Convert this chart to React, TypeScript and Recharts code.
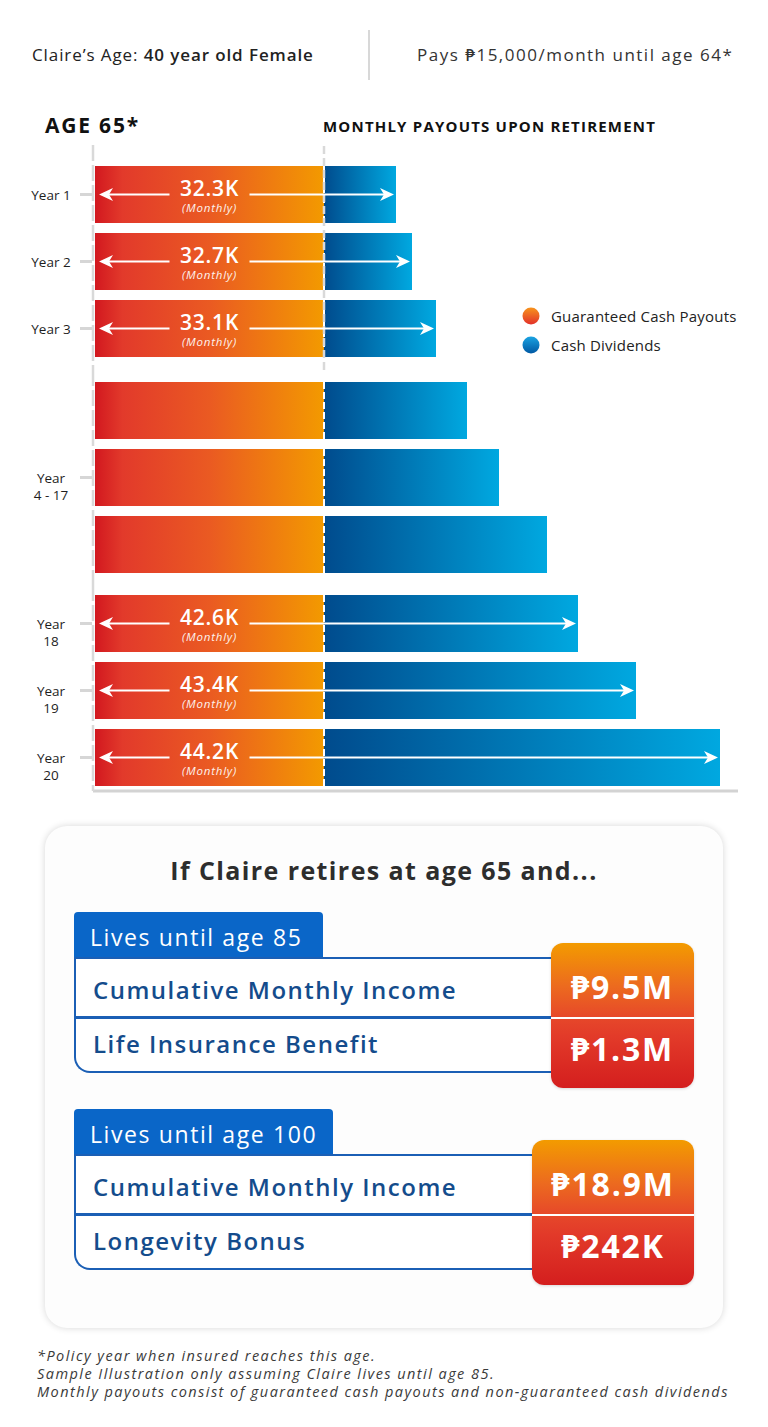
import React from "react";
import { BarChart, Bar, XAxis, YAxis, ReferenceLine, LabelList, Legend, Rectangle } from "recharts";

// rows of the payout chart (bar lengths, same unit for both series)
const rowKeys = ["y1", "y2", "y3", "y4", "y5", "y6", "y18", "y19", "y20"];
const rowLabels = ["Year 1", "Year 2", "Year 3", "", "Year\n4 - 17", "", "Year\n18", "Year\n19", "Year\n20"];
const guaranteedPayouts = [22.9, 22.9, 22.9, 22.9, 22.9, 22.9, 22.9, 22.9, 22.9];
const cashDividends = [7.2, 8.8, 11.2, 14.3, 17.5, 22.3, 25.4, 31.2, 39.6];
const monthlyTotals = ["32.3K", "32.7K", "33.1K", "", "", "", "42.6K", "43.4K", "44.2K"];
const rowGroups = [[0, 3], [3, 6], [6, 9]];
const legendOrder = ["guaranteed", "dividend"];

const FONT = "'Open Sans', 'Noto Sans', sans-serif";

const rows = rowKeys.map((key, i) => ({
  key,
  label: rowLabels[i],
  guaranteed: guaranteedPayouts[i],
  dividend: cashDividends[i],
  total: monthlyTotals[i],
}));

const Arrow = ({ from, to, y }: { from: number; to: number; y: number }) => {
  const dir = to > from ? 1 : -1;
  return (
    <g>
      <line x1={from} x2={to - dir * 8} y1={y} y2={y} stroke="#fff" strokeWidth={2} />
      <path
        d={`M${to},${y} L${to - dir * 14},${y - 6.5} L${to - dir * 10},${y} L${to - dir * 14},${y + 6.5} Z`}
        fill="#fff"
      />
    </g>
  );
};

const makeAnnotation = (data: any[]) => (props: any) => {
  const { x, y, width, height, index } = props;
  const row = data[index];
  if (!row || !row.total) return null;
  const k = width / row.dividend;
  const start = x - row.guaranteed * k;
  const cx = (start + x) / 2;
  const cy = y + height / 2;
  return (
    <g fontFamily={FONT}>
      <Arrow from={cx - 40} to={start + 4} y={cy} />
      <Arrow from={cx + 40} to={x + width - 2} y={cy} />
      <text x={cx} y={cy - 7} textAnchor="middle" dominantBaseline="central" fill="#fff" fontSize={21} fontWeight={600} letterSpacing={0.8}>
        {row.total}
      </text>
      <text x={cx} y={cy + 13} textAnchor="middle" dominantBaseline="central" fill="#fff" fontSize={11.5} fontStyle="italic" letterSpacing={0.8} opacity={0.92}>
        (Monthly)
      </text>
    </g>
  );
};

const DividendShape = (props: any) => {
  const { x, y, width, height } = props;
  return (
    <g>
      <Rectangle x={x} y={y} width={width} height={height} fill="url(#gradBlue)" />
      <line x1={x} x2={x} y1={y} y2={y + height} stroke="#fff" strokeWidth={2} strokeDasharray="7 3" />
    </g>
  );
};

const makeTick = (data: any[]) => (props: any) => {
  const { x, y, payload } = props;
  const row = data.find((r) => r.key === payload.value);
  if (!row || !row.label) return null;
  const lines = row.label.split("\n");
  return (
    <g>
      <line x1={x - 13} x2={x - 1} y1={y} y2={y} stroke="#d6d6d6" strokeWidth={3} />
      <text textAnchor="middle" fontSize={13.5} fill="#1e1e1e" fontWeight={500} fontFamily={FONT}>
        {lines.map((l: string, i: number) => (
          <tspan key={i} x={x - 42} y={y + i * 17} dominantBaseline="central">
            {l}
          </tspan>
        ))}
      </text>
    </g>
  );
};

const LegendContent = (props: any) => {
  const items = [...(props.payload || [])].sort(
    (p: any, q: any) => legendOrder.indexOf(p.dataKey) - legendOrder.indexOf(q.dataKey)
  );
  return (
    <div style={{ fontFamily: FONT }}>
      {items.map((entry: any) => (
        <div key={entry.value} style={{ display: "flex", alignItems: "center", height: 29 }}>
          <svg width={18} height={18} style={{ marginRight: 11 }}>
            <circle cx={9} cy={9} r={8.5} fill={entry.dataKey === "guaranteed" ? "url(#gradDotOrange)" : "url(#gradDotBlue)"} />
          </svg>
          <span style={{ fontSize: 15, color: "#222", fontWeight: 500, letterSpacing: 0.2 }}>{entry.value}</span>
        </div>
      ))}
    </div>
  );
};

const chartLayouts = [
  { top: 145, height: 225, padding: { top: 16, bottom: 8 } },
  { top: 370, height: 215, padding: { top: 7, bottom: 7 } },
  { top: 585, height: 212, padding: { top: 5, bottom: 0 } },
];

const PayoutChart = ({ part }: { part: number }) => {
  const [a, b] = rowGroups[part];
  const data = rows.slice(a, b);
  const layout = chartLayouts[part];
  const isLast = part === rowGroups.length - 1;
  return (
    <div style={{ position: "absolute", left: 0, top: layout.top }}>
      <BarChart
        width={768}
        height={layout.height}
        data={data}
        layout="vertical"
        margin={{ top: 0, right: 30, bottom: 0, left: 0 }}
        barCategoryGap={5}
      >
        <XAxis
          type="number"
          domain={[-0.2, 64.3]}
          hide={!isLast}
          tick={false}
          tickLine={false}
          height={6}
          axisLine={{ stroke: "#d3d3d3", strokeWidth: 3 }}
        />
        <YAxis
          type="category"
          dataKey="key"
          width={93}
          padding={layout.padding}
          tickLine={false}
          tickSize={0}
          tickMargin={0}
          interval={0}
          tick={makeTick(data)}
          axisLine={{ stroke: "#d9d9d9", strokeWidth: 2.5, strokeDasharray: "16 4" }}
        />
        {part === 0 && (
          <ReferenceLine x={guaranteedPayouts[0]} stroke="#d9d9d9" strokeWidth={2.5} strokeDasharray="8 4" />
        )}
        <Bar
          dataKey="guaranteed"
          name="Guaranteed Cash Payouts"
          stackId="p"
          fill="url(#gradOrange)"
          isAnimationActive={false}
        />
        <Bar
          dataKey="dividend"
          name="Cash Dividends"
          stackId="p"
          fill="#0070b8"
          shape={DividendShape}
          isAnimationActive={false}
        >
          <LabelList dataKey="dividend" content={makeAnnotation(data)} />
        </Bar>
        {part === 0 && (
          <Legend
            layout="horizontal"
            verticalAlign="middle"
            align="center"
            content={LegendContent}
            wrapperStyle={{ position: "absolute", top: 156, left: 522, width: 246, height: 60 }}
          />
        )}
      </BarChart>
    </div>
  );
};

const valueBox = (top: number, left: number, width: number, split: number, v1: string, v2: string) => (
  <div
    style={{
      position: "absolute",
      top,
      left,
      width,
      height: 145,
      borderRadius: 12,
      background: "linear-gradient(180deg, #f39b00 0%, #ec6a1f 30%, #e6472a 52%, #e23a29 65%, #d41e1e 100%)",
      boxShadow: "0 1px 3px rgba(0,0,0,0.15)",
      color: "#fff",
      fontFamily: FONT,
      fontWeight: 700,
      fontSize: 32,
      letterSpacing: 1.8,
    }}
  >
    <div style={{ position: "absolute", left: 0, right: 0, top: split, height: 2, background: "#fff" }} />
    <div style={{ position: "absolute", left: 0, right: 0, top: 24, height: 40, lineHeight: "40px", textAlign: "center" }}>{v1}</div>
    <div style={{ position: "absolute", left: 0, right: 0, top: 86, height: 40, lineHeight: "40px", textAlign: "center" }}>{v2}</div>
  </div>
);

const Scenario = ({ top, tabWidth, tabText, tableWidth, row1, row2, v1, v2 }: any) => (
  <>
    <div
      style={{
        position: "absolute",
        left: 74,
        top,
        width: tabWidth,
        height: 46,
        background: "#0a66c8",
        borderRadius: "4px 4px 0 0",
        color: "#fff",
        fontFamily: FONT,
        fontSize: 23,
        fontWeight: 500,
        letterSpacing: 1.6,
        lineHeight: "50px",
        paddingLeft: 16,
        boxSizing: "border-box",
        whiteSpace: "nowrap",
      }}
    >
      {tabText}
    </div>
    <div
      style={{
        position: "absolute",
        left: 74,
        top: top + 45,
        width: tableWidth,
        height: 116,
        border: "2.5px solid #1b5fb5",
        borderRight: "none",
        borderBottomLeftRadius: 16,
        background: "#fff",
        boxSizing: "border-box",
        fontFamily: FONT,
        color: "#144c8c",
        fontSize: 24,
        fontWeight: 600,
        letterSpacing: 1.5,
        lineHeight: "32px",
        whiteSpace: "nowrap",
      }}
    >
      <div style={{ position: "absolute", left: 0, right: 0, top: 57, height: 2.5, background: "#1b5fb5" }} />
      <div style={{ position: "absolute", left: 17, top: 15 }}>{row1}</div>
      <div style={{ position: "absolute", left: 17, top: 69 }}>{row2}</div>
    </div>
    {valueBox(top + 31, 74 + tableWidth - 1, 694 - (74 + tableWidth - 1), 74, v1, v2)}
  </>
);

export default function App() {
  return (
    <div style={{ position: "absolute", left: 0, top: 0, width: 768, height: 1427, background: "#fff", overflow: "hidden", fontFamily: FONT }}>
      <svg width={0} height={0} style={{ position: "absolute" }}>
        <defs>
          <linearGradient id="gradOrange" x1="0" y1="0" x2="1" y2="0">
            <stop offset="0%" stopColor="#d2181f" />
            <stop offset="12%" stopColor="#e23a2b" />
            <stop offset="50%" stopColor="#ea5a22" />
            <stop offset="100%" stopColor="#f39a00" />
          </linearGradient>
          <linearGradient id="gradBlue" x1="0" y1="0" x2="1" y2="0">
            <stop offset="0%" stopColor="#004b8d" />
            <stop offset="100%" stopColor="#00a8e0" />
          </linearGradient>
          <linearGradient id="gradDotOrange" x1="0" y1="0" x2="0" y2="1">
            <stop offset="0%" stopColor="#f7941d" />
            <stop offset="100%" stopColor="#e2302a" />
          </linearGradient>
          <linearGradient id="gradDotBlue" x1="0" y1="0" x2="0" y2="1">
            <stop offset="0%" stopColor="#1ba3e2" />
            <stop offset="100%" stopColor="#0058a3" />
          </linearGradient>
        </defs>
      </svg>

      {/* header */}
      <div style={{ position: "absolute", left: 32, top: 43, fontSize: 17, letterSpacing: 0.9, color: "#222", whiteSpace: "nowrap" }}>
        Claire’s Age: <span style={{ fontWeight: 600 }}>40 year old Female</span>
      </div>
      <div style={{ position: "absolute", left: 368, top: 30, width: 1.5, height: 50, background: "#d8d8d8" }} />
      <div style={{ position: "absolute", left: 417, top: 43, fontSize: 17, letterSpacing: 1.5, color: "#333", fontWeight: 500, whiteSpace: "nowrap" }}>
        Pays ₱15,000/month until age 64*
      </div>

      <div style={{ position: "absolute", left: 45, top: 111, fontSize: 21, letterSpacing: 1.8, color: "#111", fontWeight: 700, whiteSpace: "nowrap" }}>
        AGE 65*
      </div>
      <div style={{ position: "absolute", left: 323, top: 116, fontSize: 15, letterSpacing: 1.2, color: "#111", fontWeight: 700, whiteSpace: "nowrap" }}>
        MONTHLY PAYOUTS UPON RETIREMENT
      </div>

      {rowGroups.map((_, i) => (
        <PayoutChart key={i} part={i} />
      ))}

      {/* summary card */}
      <div
        style={{
          position: "absolute",
          left: 45,
          top: 826,
          width: 678,
          height: 502,
          borderRadius: 22,
          background: "#fdfdfd",
          boxShadow: "0 0 7px rgba(0,0,0,0.16)",
        }}
      />
      <div style={{ position: "absolute", left: 45, width: 678, top: 853, textAlign: "center", fontSize: 25, letterSpacing: 1.4, fontWeight: 700, color: "#2d2d2d", whiteSpace: "nowrap" }}>
        If Claire retires at age 65 and...
      </div>
      <Scenario
        top={912}
        tabWidth={249}
        tabText="Lives until age 85"
        tableWidth={478}
        row1="Cumulative Monthly Income"
        row2="Life Insurance Benefit"
        v1="₱9.5M"
        v2="₱1.3M"
      />
      <Scenario
        top={1109}
        tabWidth={259}
        tabText="Lives until age 100"
        tableWidth={459}
        row1="Cumulative Monthly Income"
        row2="Longevity Bonus"
        v1="₱18.9M"
        v2="₱242K"
      />

      <div style={{ position: "absolute", left: 37, top: 1347, fontSize: 14.5, letterSpacing: 1.45, lineHeight: "18px", fontStyle: "italic", color: "#3a3a3a", whiteSpace: "nowrap" }}>
        <div>*Policy year when insured reaches this age.</div>
        <div>Sample Illustration only assuming Claire lives until age 85.</div>
        <div>Monthly payouts consist of guaranteed cash payouts and non-guaranteed cash dividends</div>
      </div>
    </div>
  );
}
